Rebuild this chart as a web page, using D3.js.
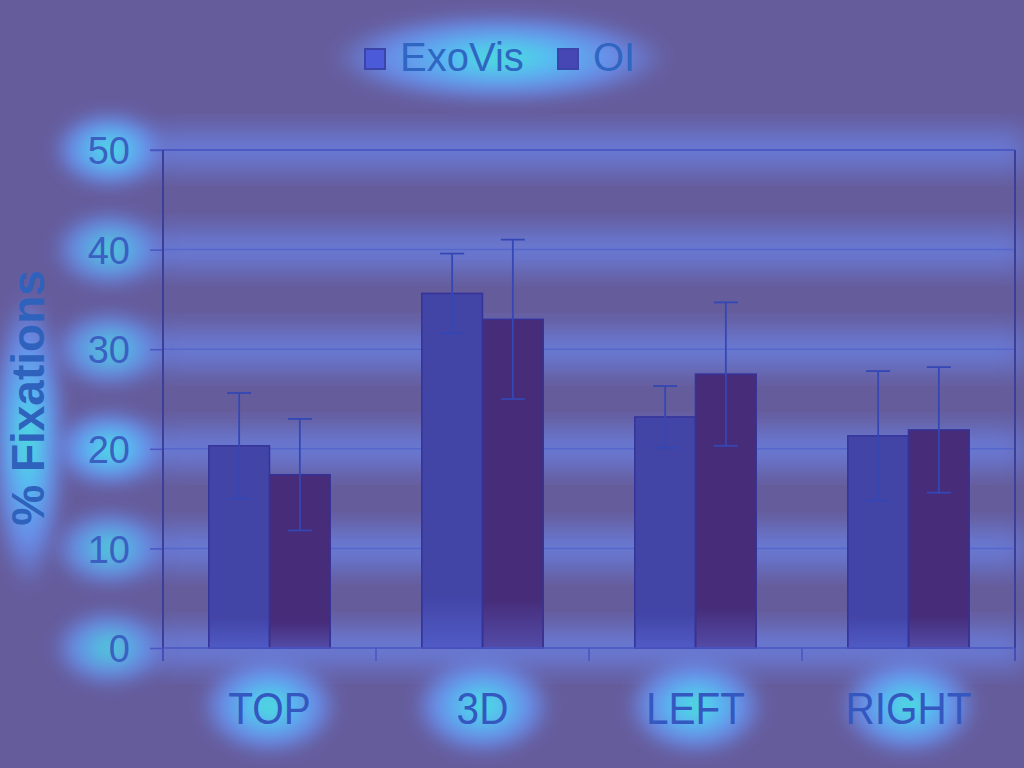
<!DOCTYPE html>
<html>
<head>
<meta charset="utf-8">
<script src="https://cdn.jsdelivr.net/npm/d3@7"></script>
<style>
  html, body { margin: 0; padding: 0; background: #655c9c; }
  svg { display: block; font-family: "Liberation Sans", Arial, sans-serif; }
</style>
</head>
<body>
<div id="chart"></div>
<script>
// data
var categories = ["TOP", "3D", "LEFT", "RIGHT"];
var seriesNames = ["ExoVis", "OI"];
var exoVis = [20.3, 35.6, 23.2, 21.3];
var exoVisErr = [5.3, 4.0, 3.1, 6.5];
var oi = [17.4, 33.0, 27.5, 21.9];
var oiErr = [5.6, 8.0, 7.2, 6.3];
var yTicks = [0, 10, 20, 30, 40, 50];

var width = 1024, height = 768;
var margin = {top: 150, right: 9, bottom: 120, left: 163};

var svg = d3.select("#chart").append("svg")
    .attr("width", width)
    .attr("height", height);

var defs = svg.append("defs");
defs.append("filter").attr("id", "blur").attr("x", "-50%").attr("y", "-50%")
    .attr("width", "200%").attr("height", "200%")
  .append("feGaussianBlur").attr("stdDeviation", 14);
defs.append("filter").attr("id", "soft").attr("x", "-50%").attr("y", "-50%")
    .attr("width", "200%").attr("height", "200%")
  .append("feGaussianBlur").attr("stdDeviation", 8);

var glow = defs.append("radialGradient").attr("id", "glow");
glow.append("stop").attr("offset", "0%").attr("stop-color", "#48e6cf");
glow.append("stop").attr("offset", "30%").attr("stop-color", "#55c0f2");
glow.append("stop").attr("offset", "70%").attr("stop-color", "#6a92f4").attr("stop-opacity", 0.85);
glow.append("stop").attr("offset", "100%").attr("stop-color", "#6a8df2").attr("stop-opacity", 0);

// lighter base near the bottom of each bar
var barShade = defs.append("linearGradient").attr("id", "barShade")
    .attr("x1", 0).attr("x2", 0).attr("y1", 0).attr("y2", 1);
barShade.append("stop").attr("offset", "0%").attr("stop-color", "#ffffff").attr("stop-opacity", 0);
barShade.append("stop").attr("offset", "85%").attr("stop-color", "#6a86ff").attr("stop-opacity", 0);
barShade.append("stop").attr("offset", "100%").attr("stop-color", "#6a86ff").attr("stop-opacity", 0.35);

svg.append("rect").attr("width", width).attr("height", height).attr("fill", "#655c9c");

// scales
var x0 = d3.scaleBand()
    .domain(categories)
    .range([margin.left, width - margin.right])
    .paddingInner(0.43)
    .paddingOuter(0.215);

var xTick = d3.scaleBand()
    .domain(categories)
    .range([margin.left, width - margin.right]);

var x1 = d3.scaleBand()
    .domain(seriesNames)
    .range([0, x0.bandwidth()]);

var y = d3.scaleLinear()
    .domain([0, 50])
    .range([648, margin.top]);

var rows = categories.map(function(c, i) {
  return {cat: c, values: [
    {name: "ExoVis", v: exoVis[i], e: exoVisErr[i]},
    {name: "OI", v: oi[i], e: oiErr[i]}
  ]};
});

// heat-map bands along gridlines
var heat = svg.append("g").attr("class", "heat");
heat.selectAll("rect.band")
  .data(yTicks)
  .join("rect")
    .attr("class", "band")
    .attr("x", margin.left - 10)
    .attr("width", width - margin.left - margin.right + 20)
    .attr("y", function(d) { return y(d) - 18; })
    .attr("height", 36)
    .attr("fill", "#6b82e4")
    .attr("opacity", 0.85)
    .attr("filter", "url(#blur)");

// glows behind labels
var glowSpots = [];
yTicks.forEach(function(t) { glowSpots.push({x: 110, y: y(t), rx: 58, ry: 40, o: t == 20 || t == 50 ? 1 : 0.85}); });
categories.forEach(function(c) { glowSpots.push({x: xTick(c) + xTick.bandwidth() / 2, y: 706, rx: 70, ry: 50, o: 1}); });
glowSpots.push({x: 500, y: 58, rx: 170, ry: 46, o: 1});
glowSpots.push({x: 28, y: 440, rx: 38, ry: 150, o: 1});

heat.selectAll("ellipse.spot")
  .data(glowSpots)
  .join("ellipse")
    .attr("class", "spot")
    .attr("cx", function(d) { return d.x; })
    .attr("cy", function(d) { return d.y; })
    .attr("rx", function(d) { return d.rx; })
    .attr("ry", function(d) { return d.ry; })
    .attr("fill", "url(#glow)")
    .attr("opacity", function(d) { return d.o; })
    .attr("filter", "url(#soft)");

// gridlines
svg.append("g")
  .selectAll("line")
  .data(yTicks.slice(1))
  .join("line")
    .attr("x1", margin.left)
    .attr("x2", width - margin.right)
    .attr("y1", function(d) { return y(d); })
    .attr("y2", function(d) { return y(d); })
    .attr("stroke", "#5566cc")
    .attr("stroke-width", 1.5);

// bars
var groups = svg.append("g").selectAll("g")
  .data(rows)
  .join("g")
    .attr("transform", function(d) { return "translate(" + x0(d.cat) + ",0)"; });

groups.selectAll("rect.bar")
  .data(function(d) { return d.values; })
  .join("rect")
    .attr("class", "bar")
    .attr("x", function(d) { return x1(d.name); })
    .attr("width", x1.bandwidth())
    .attr("y", function(d) { return y(d.v); })
    .attr("height", function(d) { return y(0) - y(d.v); })
    .attr("fill", function(d) { return d.name == "ExoVis" ? "#4244a6" : "#462c79"; })
    .attr("stroke", "#35339a")
    .attr("stroke-width", 1.5);

groups.selectAll("rect.shade")
  .data(function(d) { return d.values; })
  .join("rect")
    .attr("class", "shade")
    .attr("x", function(d) { return x1(d.name) + 1; })
    .attr("width", x1.bandwidth() - 2)
    .attr("y", function(d) { return y(d.v); })
    .attr("height", function(d) { return y(0) - y(d.v); })
    .attr("fill", "url(#barShade)");

// error bars
var eb = groups.selectAll("g.err")
  .data(function(d) { return d.values; })
  .join("g")
    .attr("class", "err")
    .attr("stroke", "#3447b4")
    .attr("stroke-width", 1.8);

eb.append("line")
    .attr("x1", function(d) { return x1(d.name) + x1.bandwidth() / 2; })
    .attr("x2", function(d) { return x1(d.name) + x1.bandwidth() / 2; })
    .attr("y1", function(d) { return y(d.v + d.e); })
    .attr("y2", function(d) { return y(d.v - d.e); });
[1, -1].forEach(function(s) {
  eb.append("line")
    .attr("x1", function(d) { return x1(d.name) + x1.bandwidth() / 2 - 12; })
    .attr("x2", function(d) { return x1(d.name) + x1.bandwidth() / 2 + 12; })
    .attr("y1", function(d) { return y(d.v + s * d.e); })
    .attr("y2", function(d) { return y(d.v + s * d.e); });
});

// frame: top and right
svg.append("line")
    .attr("x1", 150).attr("x2", width - margin.right)
    .attr("y1", y(50)).attr("y2", y(50))
    .attr("stroke", "#4a55c0").attr("stroke-width", 1.5);
svg.append("line")
    .attr("x1", width - margin.right).attr("x2", width - margin.right)
    .attr("y1", y(50)).attr("y2", 661)
    .attr("stroke", "#3b3f99").attr("stroke-width", 2);

// y axis
var yAxis = svg.append("g")
    .attr("transform", "translate(" + margin.left + ",0)")
    .call(d3.axisLeft(y).tickValues(yTicks).tickSize(13).tickPadding(20));
yAxis.select(".domain").remove();
yAxis.append("line")
    .attr("x1", 0).attr("x2", 0)
    .attr("y1", y(50)).attr("y2", 661)
    .attr("stroke", "#3b3f99").attr("stroke-width", 2);
yAxis.selectAll(".tick line").attr("stroke", "#4a55c0").attr("stroke-width", 1.5);
yAxis.selectAll(".tick text")
    .attr("fill", "#3a60c2")
    .attr("font-size", 38)
    .attr("font-family", "Liberation Sans, Arial, sans-serif")
    .attr("dy", "0.36em");

// x axis
var xAxis = svg.append("g")
    .attr("transform", "translate(0," + y(0) + ")")
    .call(d3.axisBottom(xTick).tickSize(0).tickPadding(0));
xAxis.select(".domain").remove();
xAxis.selectAll(".tick text").remove();
xAxis.append("line")
    .attr("x1", margin.left).attr("x2", width - margin.right)
    .attr("y1", 0).attr("y2", 0)
    .attr("stroke", "#4a55c0").attr("stroke-width", 1.5);
xAxis.selectAll("line.sep")
  .data(categories.concat(["end"]))
  .join("line")
    .attr("class", "sep")
    .attr("x1", function(d, i) { return i < categories.length ? xTick(d) : width - margin.right; })
    .attr("x2", function(d, i) { return i < categories.length ? xTick(d) : width - margin.right; })
    .attr("y1", 0).attr("y2", 13)
    .attr("stroke", "#4a55c0").attr("stroke-width", 1.5);

svg.append("g").selectAll("text")
  .data(categories)
  .join("text")
    .attr("transform", function(d) {
      return "translate(" + (xTick(d) + xTick.bandwidth() / 2) + ",724) scale(0.9,1)";
    })
    .attr("text-anchor", "middle")
    .attr("font-size", 45)
    .attr("fill", "#3458c0")
    .text(function(d) { return d; });

// axis title
svg.append("text")
    .attr("transform", "translate(44,398) rotate(-90)")
    .attr("text-anchor", "middle")
    .attr("font-size", 46)
    .attr("font-weight", "bold")
    .attr("fill", "#2f62bd")
    .text("% Fixations");

// legend
var legendX = [364, 557];
var legend = svg.append("g").selectAll("g")
  .data(seriesNames)
  .join("g")
    .attr("transform", function(d, i) { return "translate(" + legendX[i] + ",0)"; });
legend.append("rect")
    .attr("x", 1).attr("y", 49)
    .attr("width", 20).attr("height", 20)
    .attr("fill", function(d) { return d == "ExoVis" ? "#4a5ad8" : "#4646b4"; })
    .attr("stroke", "#3b44a8").attr("stroke-width", 2);
legend.append("text")
    .attr("x", 36).attr("y", 71)
    .attr("font-size", 40)
    .attr("fill", "#2f66c2")
    .text(function(d) { return d; });
</script>
</body>
</html>
